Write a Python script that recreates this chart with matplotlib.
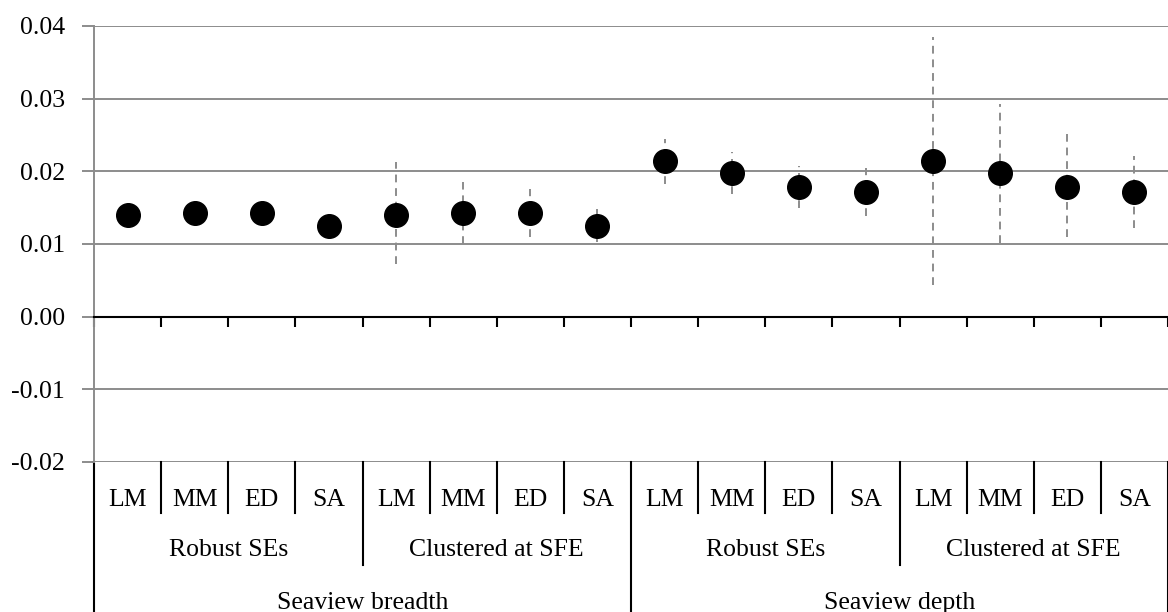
import numpy as np
import matplotlib
matplotlib.use("Agg")
import matplotlib.pyplot as plt

# Coefficient estimates with confidence bounds
methods = ["LM", "MM", "ED", "SA"] * 4
se_types = ["Robust SEs", "Clustered at SFE"] * 2
outcomes = ["Seaview breadth", "Seaview depth"]

estimate = [0.0140, 0.0143, 0.0143, 0.0125, 0.0140, 0.0143, 0.0143, 0.0125,
            0.0214, 0.0198, 0.0178, 0.0171, 0.0214, 0.0198, 0.0178, 0.0171]
lower = [0.0128, 0.0131, 0.0131, 0.0113, 0.0073, 0.0100, 0.0110, 0.0103,
         0.0183, 0.0169, 0.0149, 0.0138, 0.0043, 0.0101, 0.0110, 0.0122]
upper = [0.0152, 0.0155, 0.0155, 0.0137, 0.0213, 0.0186, 0.0176, 0.0148,
         0.0244, 0.0226, 0.0208, 0.0205, 0.0385, 0.0293, 0.0251, 0.0221]

yticks = [-0.02, -0.01, 0.00, 0.01, 0.02, 0.03, 0.04]
ytick_labels = ["-0.02", "-0.01", "0.00", "0.01", "0.02", "0.03", "0.04"]

plt.rcParams["font.family"] = ["Liberation Serif", "DejaVu Serif"]
grid_col = "#8c8c8c"
fs = 18.5

fig = plt.figure(figsize=(11.68, 6.12), dpi=100)
ax = fig.add_axes([94 / 1168, 150 / 612, 1 - 94 / 1168, 436 / 612])

x = np.arange(len(estimate))
est = np.array(estimate)
lo = np.array(lower)
hi = np.array(upper)

ax.vlines(x, lo, hi, colors=grid_col, linestyles=(0, (4, 3)), lw=1.4, zorder=3)
ax.plot(x, est, "o", color="black", markersize=17, zorder=4)

ax.set_xlim(-0.5, len(x) - 0.5)
ax.set_ylim(yticks[0], yticks[-1])
ax.set_yticks(yticks)
ax.set_yticklabels(ytick_labels, fontsize=fs)
ax.tick_params(axis="y", length=9, width=1.4, color=grid_col, pad=12)
ax.yaxis.grid(True, color=grid_col, lw=1.4)
ax.set_axisbelow(True)

# x axis drawn at zero with ticks at category boundaries
bounds = np.arange(len(x) + 1) - 0.5
ax.spines["bottom"].set_position(("data", 0))
ax.spines["bottom"].set_color("black")
ax.spines["bottom"].set_linewidth(1.5)
ax.set_xticks(bounds)
ax.set_xticklabels([])
ax.tick_params(axis="x", length=7, width=1.5, color="black", direction="out")
ax.spines["left"].set_color(grid_col)
ax.spines["left"].set_linewidth(1.4)
ax.spines["top"].set_visible(False)
ax.spines["right"].set_visible(False)

# category table under the plot
tr = ax.get_xaxis_transform()
row1, row2, row3 = -51 / 436, -103 / 436, -152 / 436
for b in bounds:
    i = int(b + 0.5)
    if i % 8 == 0:
        bottom = row3
    elif i % 4 == 0:
        bottom = row2
    else:
        bottom = row1
    ax.plot([b, b], [0, bottom], transform=tr, color="black", lw=1.5, clip_on=False)

for i, m in enumerate(methods):
    ax.text(i, -38 / 436, m, transform=tr, ha="center", va="center", fontsize=fs)
for j, s in enumerate(se_types):
    ax.text(j * 4 + 1.5, -88 / 436, s, transform=tr, ha="center", va="center", fontsize=fs)
for k, o in enumerate(outcomes):
    ax.text(k * 8 + 3.5, -141 / 436, o, transform=tr, ha="center", va="center", fontsize=fs)

fig.savefig("out.png", dpi=100)
